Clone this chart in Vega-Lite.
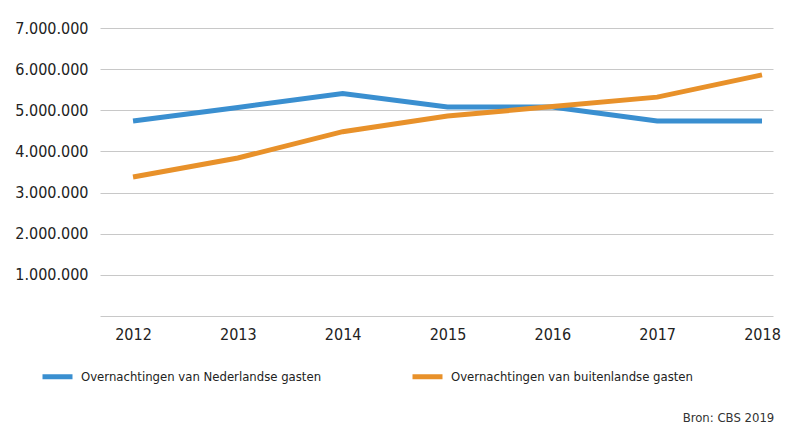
{
  "$schema": "https://vega.github.io/schema/vega-lite/v6.json",
  "width": 673,
  "height": 288,
  "autosize": {"type": "none"},
  "padding": {"left": 100, "top": 28, "right": 27, "bottom": 121},
  "background": "white",
  "config": {
    "locale": {"number": {"decimal": ",", "thousands": ".", "grouping": [3], "currency": ["€", ""]}},
    "font": "'DejaVu Sans Condensed', 'Liberation Sans Narrow', Roboto, sans-serif",
    "view": {"stroke": null}
  },
  "title": {
    "text": "Bron: CBS 2019",
    "orient": "bottom",
    "anchor": "end",
    "fontSize": 13,
    "fontWeight": "normal",
    "color": "#333333",
    "offset": 25,
    "dx": -6
  },
  "data": {
    "values": [
      {"jaar": 2012, "soort": "Overnachtingen van Nederlandse gasten", "aantal": 4740000},
      {"jaar": 2013, "soort": "Overnachtingen van Nederlandse gasten", "aantal": 5070000},
      {"jaar": 2014, "soort": "Overnachtingen van Nederlandse gasten", "aantal": 5410000},
      {"jaar": 2015, "soort": "Overnachtingen van Nederlandse gasten", "aantal": 5080000},
      {"jaar": 2016, "soort": "Overnachtingen van Nederlandse gasten", "aantal": 5080000},
      {"jaar": 2017, "soort": "Overnachtingen van Nederlandse gasten", "aantal": 4740000},
      {"jaar": 2018, "soort": "Overnachtingen van Nederlandse gasten", "aantal": 4740000},
      {"jaar": 2012, "soort": "Overnachtingen van buitenlandse gasten", "aantal": 3380000},
      {"jaar": 2013, "soort": "Overnachtingen van buitenlandse gasten", "aantal": 3840000},
      {"jaar": 2014, "soort": "Overnachtingen van buitenlandse gasten", "aantal": 4480000},
      {"jaar": 2015, "soort": "Overnachtingen van buitenlandse gasten", "aantal": 4860000},
      {"jaar": 2016, "soort": "Overnachtingen van buitenlandse gasten", "aantal": 5090000},
      {"jaar": 2017, "soort": "Overnachtingen van buitenlandse gasten", "aantal": 5320000},
      {"jaar": 2018, "soort": "Overnachtingen van buitenlandse gasten", "aantal": 5860000}
    ]
  },
  "mark": {"type": "line", "strokeWidth": 5, "strokeJoin": "miter"},
  "encoding": {
    "x": {
      "field": "jaar",
      "type": "quantitative",
      "scale": {"domain": [2011.685, 2018.105], "nice": false, "zero": false},
      "axis": {
        "title": null,
        "values": [2012, 2013, 2014, 2015, 2016, 2017, 2018],
        "format": "d",
        "ticks": false,
        "grid": false,
        "domainColor": "#c8c8c8",
        "domainWidth": 1,
        "labelFontSize": 16,
        "labelColor": "#222222",
        "labelPadding": 10
      }
    },
    "y": {
      "field": "aantal",
      "type": "quantitative",
      "scale": {"domain": [0, 7000000], "nice": false},
      "axis": {
        "title": null,
        "values": [1000000, 2000000, 3000000, 4000000, 5000000, 6000000, 7000000],
        "format": ",d",
        "ticks": false,
        "domain": false,
        "gridColor": "#c8c8c8",
        "gridWidth": 1,
        "labelFontSize": 16,
        "labelColor": "#222222",
        "labelPadding": 12
      }
    },
    "color": {
      "field": "soort",
      "type": "nominal",
      "scale": {
        "domain": ["Overnachtingen van Nederlandse gasten", "Overnachtingen van buitenlandse gasten"],
        "range": ["#3a8fd0", "#e8912a"]
      },
      "legend": {
        "title": null,
        "orient": "none",
        "legendX": -60,
        "legendY": 331,
        "direction": "horizontal",
        "symbolType": "stroke",
        "symbolSize": 900,
        "symbolStrokeWidth": 5,
        "labelFontSize": 13,
        "labelColor": "#222222",
        "labelLimit": 400,
        "labelOffset": 6,
        "columnPadding": 80
      }
    }
  }
}
